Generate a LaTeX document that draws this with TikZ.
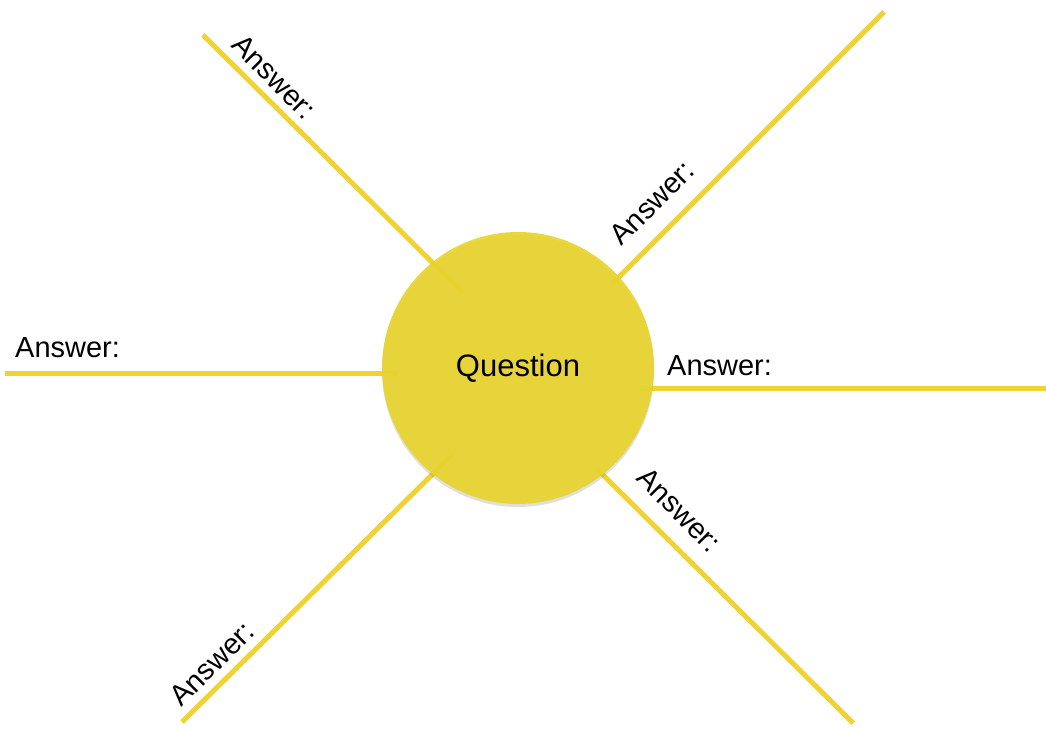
\documentclass[tikz,border=0pt]{standalone}
\usepackage{fontspec}
\setmainfont{Liberation Sans}
\usepackage{xcolor}
\usepackage{tikz}
\usetikzlibrary{shadows}

\definecolor{raycol}{RGB}{240,210,50}
\definecolor{suncol}{RGB}{232,212,48}

\begin{document}
\begin{tikzpicture}[
  x=1pt, y=-1pt,
  ray/.style={draw=raycol, line width=5pt},
  answer/.style={inner sep=0pt, font=\fontsize{29pt}{34pt}\selectfont},
]
\useasboundingbox (0,0) rectangle (1046,730);

% Ray end points (outer end / end under the circle)
\coordinate (tlout) at (203,35);   \coordinate (tlin) at (462,292);
\coordinate (trout) at (884,12);   \coordinate (trin) at (610,286);
\coordinate (lout) at (5,373);     \coordinate (lin) at (398,373);
\coordinate (rout) at (1046,388);  \coordinate (rin) at (640,388);
\coordinate (blout) at (182,722);  \coordinate (blin) at (454,453);
\coordinate (brout) at (853,723);  \coordinate (brin) at (596,468);

% Rays
\foreach \n in {tl,tr,l,r,bl,br} {
  \draw[ray] (\n out) -- (\n in);
}

% Centre
\node[circle, fill=suncol, fill opacity=0.94, text opacity=1, minimum size=272pt, inner sep=0pt,
  drop shadow={shadow xshift=0pt, shadow yshift=-3pt, opacity=0.25},
  font=\fontsize{31pt}{36pt}\selectfont] (q) at (518,368) {Question};

% Labels
\node[answer, anchor=base west] (al) at (15,357) {Answer:};
\node[answer, anchor=base west] (ar) at (667,375) {Answer:};
\node[answer, rotate=-45] (atl) at (274,77) {Answer:};
\node[answer, rotate=45] (atr) at (652,203) {Answer:};
\node[answer, rotate=-45] (abr) at (679,510) {Answer:};
\node[answer, rotate=45] (abl) at (212,664) {Answer:};
\end{tikzpicture}
\end{document}
